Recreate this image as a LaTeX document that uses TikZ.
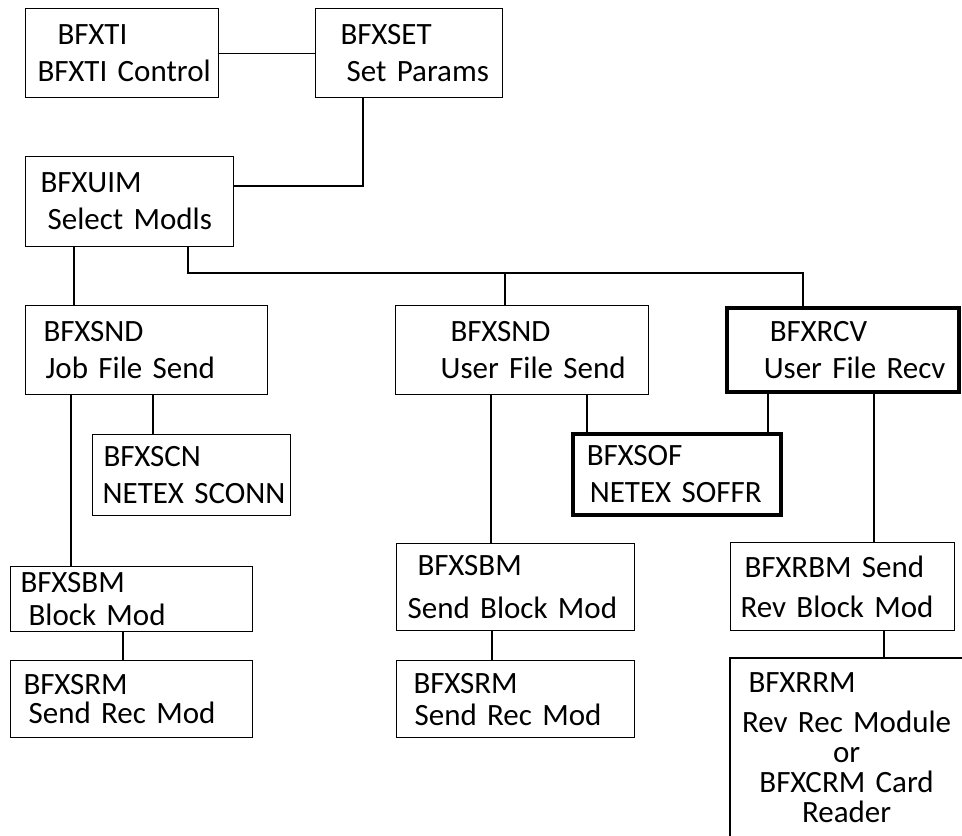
\documentclass[tikz,border=0pt]{standalone}
\usepackage{fontspec}
\setmainfont{Carlito}
\newcommand{\modfont}{\fontsize{31}{37}\selectfont\spaceskip=4pt plus 1pt\relax}
\newcommand{\rrmfont}{\fontsize{31}{30}\selectfont\spaceskip=4pt plus 1pt\relax}
\tikzstyle{module} = [draw, line width=1.2pt, inner sep=0pt, anchor=north west, align=left, font=\modfont]
\tikzstyle{heavy} = [module, line width=3.5pt]
\tikzstyle{link} = [line width=1.2pt]

\begin{document}
\begin{tikzpicture}[x=1pt, y=-1pt]
    \useasboundingbox (0,0) rectangle (962,836);
    \node (ti) [module, text width=193pt, minimum height=89pt] at (25,8) {\hspace*{32pt}BFXTI\\\hspace*{12pt}BFXTI Control};
    \node (set) [module, text width=187pt, minimum height=89pt] at (315,8) {\hspace*{25pt}BFXSET\\\hspace*{31pt}Set Params};
    \node (uim) [module, text width=208pt, minimum height=90pt] at (25,156) {\hspace*{15pt}BFXUIM\\\hspace*{22pt}Select Modls};
    \node (snd1) [module, text width=242pt, minimum height=89pt] at (25,305) {\hspace*{18pt}BFXSND\\\hspace*{20pt}Job File Send};
    \node (scn) [module, text width=198pt, minimum height=81pt] at (92,434) {\hspace*{11pt}BFXSCN\\\hspace*{10pt}NETEX SCONN};
    \node (snd2) [module, text width=253pt, minimum height=89pt] at (395,305) {\hspace*{55pt}BFXSND\\\hspace*{45pt}User File Send};
    \node (rcv) [heavy, text width=232pt, minimum height=84pt] at (725,306) {\hspace*{43pt}BFXRCV\\\hspace*{37pt}User File Recv};
    \node (sof) [heavy, text width=208pt, minimum height=81pt] at (571,432) {\hspace*{14pt}BFXSOF\\\hspace*{17pt}NETEX SOFFR};
    \node (sbm1) [module, text width=242pt, minimum height=65pt] at (10,566) {\hspace*{10pt}BFXSBM\\[-4pt]\hspace*{18pt}Block Mod};
    \node (srm1) [module, text width=242pt, minimum height=77pt] at (10,660) {\hspace*{13pt}BFXSRM\\[-8pt]\hspace*{18pt}Send Rec Mod};
    \node (sbm2) [module, text width=238pt, minimum height=87pt] at (396,543) {\hspace*{21pt}BFXSBM\\[6pt]\hspace*{11pt}Send Block Mod};
    \node (srm2) [module, text width=238pt, minimum height=77pt] at (396,660) {\hspace*{17pt}BFXSRM\\[-5pt]\hspace*{18pt}Send Rec Mod};
    \node (rbm) [module, text width=224pt, minimum height=88pt] at (730,542) {\hspace*{14pt}BFXRBM Send\\[3pt]\hspace*{10pt}Rev Block Mod};
    \node (rrm) [module, draw=none, align=center, text width=232pt, minimum height=178pt, font=\rrmfont] at (730,658)
        {\makebox[232pt][l]{\hspace*{18pt}BFXRRM}\\[10pt]Rev Rec Module\\or\\BFXCRM Card\\Reader};
    \coordinate (bus) at (803,273);
    \coordinate (tap) at (505,273);

    \draw [link] (ti.east) -- (set.west);
    \draw [link] (set.south -| 363,0) |- (uim.east |- 0,186);
    \draw [link] (uim.south -| 74,0) -- (snd1.north -| 74,0);
    \draw [link] (uim.south -| 188,0) |- (bus) -- (rcv.north -| bus);
    \draw [link] (tap) -- (snd2.north -| tap);
    \draw [link] (snd1.south -| 71,0) -- (sbm1.north -| 71,0);
    \draw [link] (snd1.south -| 153,0) -- (scn.north -| 153,0);
    \draw [link] (sbm1.south -| 123,0) -- (srm1.north -| 123,0);
    \draw [link] (snd2.south -| 491,0) -- (sbm2.north -| 491,0);
    \draw [link] (snd2.south -| 587,0) -- (sof.north -| 587,0);
    \draw [link] (sbm2.south -| 492,0) -- (srm2.north -| 492,0);
    \draw [link] (rcv.south -| 768,0) -- (sof.north -| 768,0);
    \draw [link] (rcv.south -| 874,0) -- (rbm.north -| 874,0);
    \draw [link] (rbm.south -| 884,0) -- (rrm.north -| 884,0);
    \draw [link] (rrm.north east) -- (rrm.north west) -- (rrm.south west);
\end{tikzpicture}
\end{document}
